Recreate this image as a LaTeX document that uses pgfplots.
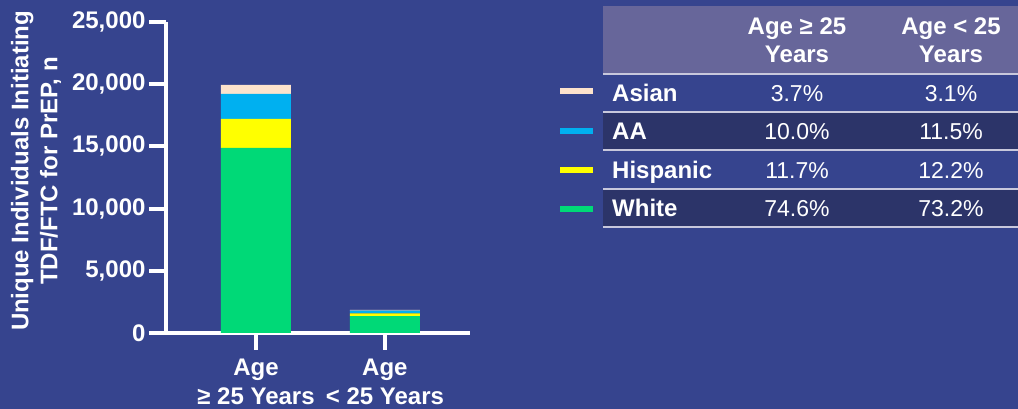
\documentclass[border=0pt]{standalone}
\usepackage{pgfplots}
\pgfplotsset{compat=1.18}
\usepackage{fontspec}
\setmainfont{Liberation Sans}
\definecolor{bg}{RGB}{54,68,142}
\definecolor{hdr}{RGB}{103,102,154}
\definecolor{darkrow}{RGB}{44,52,105}
\definecolor{rowline}{RGB}{200,200,220}
\definecolor{cwhite}{RGB}{0,217,119}
\definecolor{chisp}{RGB}{255,255,0}
\definecolor{caa}{RGB}{0,176,240}
\definecolor{casian}{RGB}{253,227,204}
\newcommand{\fs}{\fontsize{24}{29}\selectfont}
\newcommand{\fr}{\fontsize{23}{28}\selectfont}
\begin{document}
\begin{tikzpicture}[x=1pt,y=1pt]
\fill[bg] (0,0) rectangle (1018,409);
\useasboundingbox (0,0) rectangle (1018,409);
\begin{scope}[shift={(0pt,409pt)}, y=-1pt]
% table backgrounds
\fill[hdr] (603,6) rectangle (1018,73);
\fill[darkrow] (603,112) rectangle (1018,150);
\fill[darkrow] (603,189) rectangle (1018,227);
\foreach \yy in {74,112,150,189,227} {\draw[rowline, line width=2pt] (603,\yy) -- (1018,\yy);}
% headers
\node[anchor=base, text=white, font=\fs\bfseries, inner sep=0] at (797,35) {Age ≥ 25};
\node[anchor=base, text=white, font=\fs\bfseries, inner sep=0] at (797,63) {Years};
\node[anchor=base, text=white, font=\fs\bfseries, inner sep=0] at (951,35) {Age < 25};
\node[anchor=base, text=white, font=\fs\bfseries, inner sep=0] at (951,63) {Years};
% row labels
\node[anchor=base west, text=white, font=\fs\bfseries, inner sep=0] at (612,102) {Asian};
\node[anchor=base west, text=white, font=\fs\bfseries, inner sep=0] at (612,140) {AA};
\node[anchor=base west, text=white, font=\fs\bfseries, inner sep=0] at (612,179) {Hispanic};
\node[anchor=base west, text=white, font=\fs\bfseries, inner sep=0] at (612,217) {White};
% values
\node[anchor=base, text=white, font=\fr, inner sep=0] at (797,102) {3.7\%};
\node[anchor=base, text=white, font=\fr, inner sep=0] at (797,140) {10.0\%};
\node[anchor=base, text=white, font=\fr, inner sep=0] at (797,179) {11.7\%};
\node[anchor=base, text=white, font=\fr, inner sep=0] at (797,217) {74.6\%};
\node[anchor=base, text=white, font=\fr, inner sep=0] at (951,102) {3.1\%};
\node[anchor=base, text=white, font=\fr, inner sep=0] at (951,140) {11.5\%};
\node[anchor=base, text=white, font=\fr, inner sep=0] at (951,179) {12.2\%};
\node[anchor=base, text=white, font=\fr, inner sep=0] at (951,217) {73.2\%};
% legend swatches
\fill[casian] (560,88) rectangle (593,94);
\fill[caa] (560,128) rectangle (593,134);
\fill[chisp] (560,167) rectangle (593,173);
\fill[cwhite] (560,206) rectangle (593,212);
% y label
\node[rotate=90, align=center, text=white, font=\fs\bfseries, inner sep=0] at (36,171) {Unique Individuals Initiating\\TDF/FTC for PrEP, n};
\end{scope}
\begin{axis}[
  at={(166pt,76pt)}, anchor=south west,
  scale only axis, width=304pt, height=311pt,
  xmin=-0.698, xmax=1.66, ymin=0, ymax=25000,
  ybar stacked, bar width=70pt,
  axis x line*=bottom, axis y line*=left,
  axis line style={white, line width=4pt},
  tick style={white, line width=4pt},
  major tick length=17pt,
  tick align=outside,
  xtick={0,1},
  xticklabels={{Age\\≥ 25 Years},{Age\\< 25 Years}},
  xticklabel style={align=center, text=white, font=\fs\bfseries, yshift=-5pt},
  ytick={0,5000,10000,15000,20000,25000},
  scaled y ticks=false,
  yticklabel style={text=white, font=\fs\bfseries, /pgf/number format/1000 sep={,}},
  /pgf/number format/assume math mode=true,
  clip=false,
]
\addplot[fill=cwhite, draw=none] coordinates {(0,14883) (1,1354)};
\addplot[fill=chisp, draw=none] coordinates {(0,2334) (1,226)};
\addplot[fill=caa, draw=none] coordinates {(0,1995) (1,213)};
\addplot[fill=casian, draw=none] coordinates {(0,738) (1,57)};
\end{axis}
\end{tikzpicture}
\end{document}
